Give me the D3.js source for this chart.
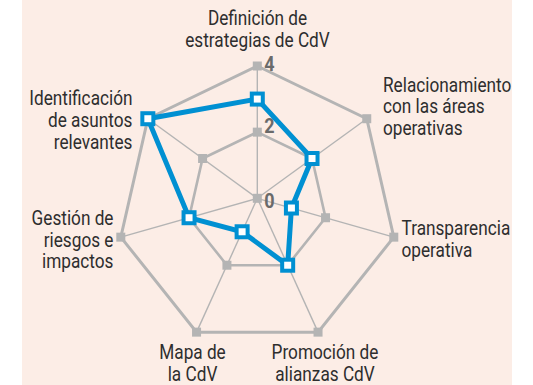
<!DOCTYPE html>
<html>
<head>
<meta charset="utf-8">
<script src="https://cdn.jsdelivr.net/npm/d3@7"></script>
<style>
html,body{margin:0;padding:0;background:#ffffff;}
svg{display:block;}
</style>
</head>
<body>
<svg id="chart" width="533" height="385"></svg>
<script>
// ---- data ----
const categories = [
  ["Definición de", "estrategias de CdV"],
  ["Relacionamiento", "con las áreas", "operativas"],
  ["Transparencia", "operativa"],
  ["Promoción de", "alianzas CdV"],
  ["Mapa de", "la CdV"],
  ["Gestión de", "riesgos e", "impactos"],
  ["Identificación", "de asuntos", "relevantes"]
];
const values = [3, 2, 1, 2, 1, 2, 4];
const ringLevels = [2, 4];
const tickValues = [0, 2, 4];
const tickLabels = ["0", "2", "4"];

// ---- layout ----
const svg = d3.select("#chart");
const W = 533, H = 385;
const cx = 257.3, cy = 206, R = 140;          // outer heptagon
const origin = [257.3, 198.3];                 // value-0 point
const n = categories.length;
const angle = d3.scaleLinear().domain([0, n]).range([0, 2 * Math.PI]);
const frac = d3.scaleLinear().domain([0, 4]).range([0, 1]);

function outer(i) {
  const a = angle(i);
  return [cx + R * Math.sin(a), cy - R * Math.cos(a)];
}
function pos(i, v) {
  const o = outer(i), f = frac(v);
  return [origin[0] + (o[0] - origin[0]) * f, origin[1] + (o[1] - origin[1]) * f];
}

const GRAY = "#b4b4b4";
const BLUE = "#0090d2";
const TEXT = "#2e2e2e";
const FONT = "Roboto, 'Open Sans', sans-serif";
const SX = 0.82;   // horizontal condensing of label text

// background panel
svg.append("rect").attr("x", 22).attr("y", 0).attr("width", 490).attr("height", H)
  .attr("fill", "#fcede6");

const idx = d3.range(n);
const line = d3.line().curve(d3.curveLinearClosed);

// spokes
svg.append("g").selectAll("line").data(idx).join("line")
  .attr("x1", origin[0]).attr("y1", origin[1])
  .attr("x2", i => outer(i)[0]).attr("y2", i => outer(i)[1])
  .attr("stroke", GRAY).attr("stroke-width", 1.4);

// rings
svg.append("g").selectAll("path").data(ringLevels).join("path")
  .attr("d", lv => line(idx.map(i => pos(i, lv))))
  .attr("fill", "none").attr("stroke", GRAY)
  .attr("stroke-width", lv => lv === 4 ? 3 : 2.6)
  .attr("stroke-linejoin", "miter");

// gray markers
const gm = [];
ringLevels.forEach(lv => idx.forEach(i => gm.push(pos(i, lv))));
gm.push(origin);
svg.append("g").selectAll("rect").data(gm).join("rect")
  .attr("x", d => d[0] - 4.5).attr("y", d => d[1] - 4.5)
  .attr("width", 9).attr("height", 9).attr("fill", GRAY);

// tick labels
const tickDy = {0: 10, 2: 1, 4: 5};
svg.append("g").selectAll("text").data(tickValues).join("text")
  .attr("transform", v => `translate(${pos(0, v)[0] + 7},${pos(0, v)[1] + tickDy[v]}) scale(0.9,1)`)
  .text((v, i) => tickLabels[i])
  .attr("font-family", FONT)
  .attr("font-weight", "bold").attr("font-size", 20).attr("fill", "#6a6a6a");

// data polygon
const pts = values.map((v, i) => pos(i, v));
svg.append("path").attr("d", line(pts))
  .attr("fill", "none").attr("stroke", BLUE).attr("stroke-width", 5)
  .attr("stroke-linejoin", "miter");

svg.append("g").selectAll("rect").data(pts).join("rect")
  .attr("x", d => d[0] - 5.5).attr("y", d => d[1] - 5.5)
  .attr("width", 11).attr("height", 11)
  .attr("fill", "#ffffff").attr("stroke", BLUE).attr("stroke-width", 4);

// category labels (layout per axis)
const labelLayout = [
  {x: 257.5, y: 25, anchor: "middle"},
  {x: 383, y: 91.7, anchor: "start"},
  {x: 401.5, y: 235, anchor: "start"},
  {x: 325, y: 359, anchor: "middle"},
  {x: 192.5, y: 359, anchor: "middle"},
  {x: 113.5, y: 225, anchor: "end"},
  {x: 132.5, y: 105.5, anchor: "end"}
];
const LH = 21.6;
const lg = svg.append("g")
  .attr("font-family", FONT)
  .attr("font-size", 21).attr("fill", TEXT);
categories.forEach((lines, i) => {
  const L = labelLayout[i];
  const t = lg.append("text").attr("text-anchor", L.anchor)
    .attr("transform", `translate(${L.x},0) scale(${SX},1)`);
  lines.forEach((s, j) => {
    t.append("tspan").attr("x", 0).attr("y", L.y + j * LH).text(s);
  });
});
</script>
</body>
</html>
